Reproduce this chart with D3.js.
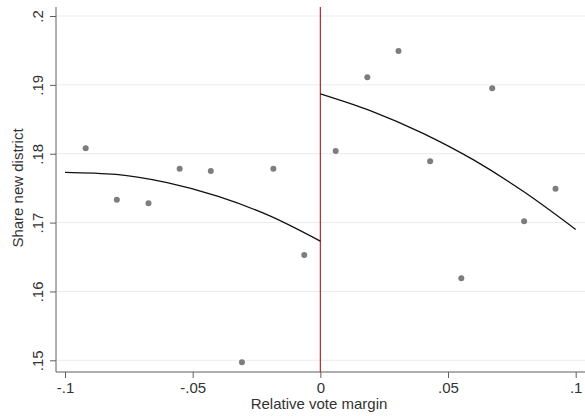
<!DOCTYPE html>
<html>
<head>
<meta charset="utf-8">
<script src="https://cdn.jsdelivr.net/npm/d3@7"></script>
<style>
  html, body { margin: 0; padding: 0; background: #fff; }
  svg { display: block; font-family: "Liberation Sans", Arial, sans-serif; }
</style>
</head>
<body>
<svg id="chart" width="585" height="416"></svg>
<script>
// Binned scatter (relative vote margin, share new district)
const binX = [-0.0919, -0.0797, -0.0673, -0.0551, -0.0429, -0.0307, -0.0184, -0.0063,
              0.0060, 0.0184, 0.0306, 0.0430, 0.0552, 0.0673, 0.0798, 0.0921];
const binY = [0.1808, 0.1733, 0.1728, 0.1778, 0.1775, 0.1497, 0.1778, 0.1653,
              0.1804, 0.1911, 0.1949, 0.1789, 0.1619, 0.1895, 0.1702, 0.1749];
// Fitted curves
const fitLeftX  = [-0.1, -0.08, -0.06, -0.04, -0.02, 0];
const fitLeftY  = [0.1773, 0.1770, 0.1758, 0.1738, 0.1710, 0.1673];
const fitRightX = [0, 0.02, 0.04, 0.06, 0.08, 0.1];
const fitRightY = [0.1887, 0.1862, 0.1830, 0.1791, 0.1744, 0.1690];
// Ticks
const xTicks = [-0.1, -0.05, 0, 0.05, 0.1];
const xTickLabels = ["-.1", "-.05", "0", ".05", ".1"];
const yTicks = [0.15, 0.16, 0.17, 0.18, 0.19, 0.2];
const yTickLabels = [".15", ".16", ".17", ".18", ".19", ".2"];
const xTitle = "Relative vote margin";
const yTitle = "Share new district";

const svg = d3.select("#chart");
const plotLeft = 56, plotRight = 585, plotTop = 7, plotBottom = 372;

const x = d3.scaleLinear().domain([-0.1, 0.1]).range([65, 575.7]);
const y = d3.scaleLinear().domain([0.15, 0.2]).range([360.3, 16]);

const axisColor = "#5f5f5f";
const textColor = "#333";
const fs = 15;

// gridlines
svg.append("g").selectAll("line").data(yTicks).join("line")
  .attr("x1", plotLeft + 1).attr("x2", plotRight)
  .attr("y1", d => y(d)).attr("y2", d => y(d))
  .attr("stroke", "#ebebeb").attr("stroke-width", 1);

// Y axis
const yAxis = d3.axisLeft(y).tickValues(yTicks)
  .tickFormat((d, i) => yTickLabels[i]).tickSize(6);
const gy = svg.append("g").attr("transform", `translate(${plotLeft},0)`).call(yAxis);
gy.select(".domain").remove();
gy.selectAll(".tick line").attr("stroke", axisColor);
gy.selectAll(".tick text")
  .attr("fill", textColor).attr("font-size", fs)
  .attr("x", null).attr("dy", null)
  .attr("text-anchor", "middle")
  .attr("transform", `translate(${43 - plotLeft},0) rotate(-90)`);

svg.append("line").attr("x1", plotLeft).attr("x2", plotLeft)
  .attr("y1", plotTop).attr("y2", plotBottom)
  .attr("stroke", axisColor).attr("stroke-width", 1);

// X axis
const xAxis = d3.axisBottom(x).tickValues(xTicks)
  .tickFormat((d, i) => xTickLabels[i]).tickSize(6);
const gx = svg.append("g").attr("transform", `translate(0,${plotBottom})`).call(xAxis);
gx.select(".domain").remove();
gx.selectAll(".tick line").attr("stroke", axisColor);
gx.selectAll(".tick text").attr("fill", textColor).attr("font-size", fs)
  .attr("dy", null).attr("y", 393 - plotBottom);
svg.append("line").attr("x1", plotLeft).attr("x2", plotRight)
  .attr("y1", plotBottom).attr("y2", plotBottom)
  .attr("stroke", axisColor).attr("stroke-width", 1);

// titles
svg.append("text").attr("x", 319).attr("y", 409)
  .attr("text-anchor", "middle").attr("font-size", fs).attr("fill", textColor)
  .text(xTitle);
svg.append("text").attr("transform", `translate(23,188) rotate(-90)`)
  .attr("text-anchor", "middle").attr("font-size", fs).attr("fill", textColor)
  .text(yTitle);

// cutoff line
svg.append("line").attr("x1", x(0)).attr("x2", x(0))
  .attr("y1", plotTop).attr("y2", plotBottom)
  .attr("stroke", "#b8282a").attr("stroke-width", 1.2);

// fitted curves
const line = d3.line().x(d => x(d[0])).y(d => y(d[1])).curve(d3.curveMonotoneX);
svg.append("path").datum(fitLeftX.map((v, i) => [v, fitLeftY[i]]))
  .attr("d", line).attr("fill", "none").attr("stroke", "#111").attr("stroke-width", 1.3);
svg.append("path").datum(fitRightX.map((v, i) => [v, fitRightY[i]]))
  .attr("d", line).attr("fill", "none").attr("stroke", "#111").attr("stroke-width", 1.3);

// points
svg.append("g").selectAll("circle").data(binX.map((v, i) => [v, binY[i]])).join("circle")
  .attr("cx", d => x(d[0])).attr("cy", d => y(d[1])).attr("r", 3)
  .attr("fill", "#7d7d7d");
</script>
</body>
</html>
